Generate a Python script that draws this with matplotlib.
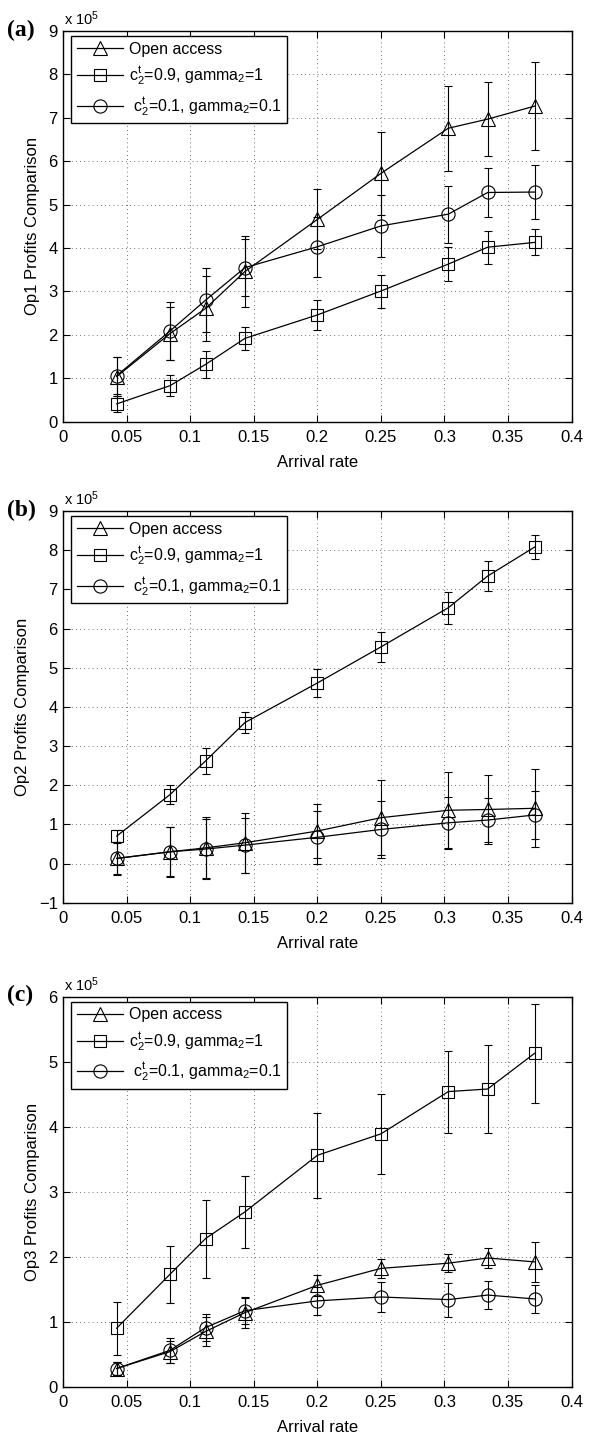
import numpy as np
import matplotlib
matplotlib.use("Agg")
import matplotlib.pyplot as plt

# ---- font setup ----
plt.rcParams['font.family'] = ['Liberation Sans', 'DejaVu Sans']
plt.rcParams['mathtext.fontset'] = 'custom'
plt.rcParams['mathtext.rm'] = 'Liberation Sans'
plt.rcParams['mathtext.it'] = 'Liberation Sans:italic'

# ---- data (profits in units of 1e5) ----
arrival = [0.042, 0.084, 0.112, 0.143, 0.2, 0.25, 0.303, 0.334, 0.371]

# Op1
open_a = [1.04, 2.03, 2.61, 3.46, 4.66, 5.72, 6.76, 6.97, 7.27]
open_a_err = [0.45, 0.62, 0.75, 0.82, 0.69, 0.96, 0.98, 0.86, 1.02]
sq_a = [0.41, 0.83, 1.32, 1.92, 2.46, 3.01, 3.63, 4.02, 4.13]
sq_a_err = [0.19, 0.24, 0.32, 0.27, 0.34, 0.38, 0.40, 0.38, 0.30]
ci_a = [1.06, 2.09, 2.80, 3.55, 4.03, 4.51, 4.78, 5.28, 5.29]
ci_a_err = [0.42, 0.66, 0.73, 0.65, 0.69, 0.71, 0.66, 0.57, 0.62]

# Op2
open_b = [0.13, 0.30, 0.40, 0.53, 0.83, 1.17, 1.36, 1.38, 1.41]
open_b_err = [0.42, 0.64, 0.78, 0.77, 0.70, 0.96, 0.97, 0.88, 1.00]
sq_b = [0.70, 1.76, 2.62, 3.60, 4.61, 5.53, 6.53, 7.34, 8.08]
sq_b_err = [0.15, 0.25, 0.33, 0.28, 0.35, 0.38, 0.41, 0.38, 0.30]
ci_b = [0.13, 0.30, 0.37, 0.47, 0.67, 0.87, 1.04, 1.11, 1.24]
ci_b_err = [0.40, 0.62, 0.76, 0.70, 0.68, 0.72, 0.66, 0.57, 0.62]

# Op3
open_c = [0.28, 0.54, 0.85, 1.14, 1.56, 1.82, 1.90, 1.98, 1.92]
open_c_err = [0.10, 0.17, 0.23, 0.24, 0.16, 0.14, 0.14, 0.15, 0.31]
sq_c = [0.90, 1.73, 2.28, 2.69, 3.56, 3.89, 4.54, 4.58, 5.13]
sq_c_err = [0.41, 0.44, 0.60, 0.55, 0.65, 0.61, 0.63, 0.68, 0.76]
ci_c = [0.28, 0.56, 0.91, 1.17, 1.32, 1.38, 1.34, 1.41, 1.35]
ci_c_err = [0.10, 0.19, 0.21, 0.20, 0.22, 0.23, 0.26, 0.21, 0.22]

labels = ['Open access',
          r'$\mathrm{c}_2^\mathrm{t}$=0.9, gamma$_2$=1',
          r' $\mathrm{c}_2^\mathrm{t}$=0.1, gamma$_2$=0.1']

panels = [
    ('(a)', 'Op1 Profits Comparison', (0, 9), [(open_a, open_a_err), (sq_a, sq_a_err), (ci_a, ci_a_err)]),
    ('(b)', 'Op2 Profits Comparison', (-1, 9), [(open_b, open_b_err), (sq_b, sq_b_err), (ci_b, ci_b_err)]),
    ('(c)', 'Op3 Profits Comparison', (0, 6), [(open_c, open_c_err), (sq_c, sq_c_err), (ci_c, ci_c_err)]),
]
markers = [('^', 10.5), ('s', 8), ('o', 9.5)]

W, H = 590, 1438
fig = plt.figure(figsize=(W / 100, H / 100), dpi=100)

# axes boxes in pixels: (top, bottom)
boxes = [(31, 421.7), (511, 902.7), (996.7, 1386.7)]
left_px, right_px = 63.3, 571.5

for (tag, ylab, ylim, series), (top, bot) in zip(panels, boxes):
    ax = fig.add_axes([left_px / W, (H - bot) / H, (right_px - left_px) / W, (bot - top) / H])
    handles = []
    for (vals, errs), (m, ms) in zip(series, markers):
        ax.errorbar(arrival, vals, yerr=errs, fmt='none', ecolor='black',
                    elinewidth=0.8, capsize=3, capthick=0.8)
        h, = ax.plot(arrival, vals, color='black', lw=0.9, marker=m, ms=ms,
                     mfc='none', mec='black', mew=0.8)
        handles.append(h)

    ax.set_xlim(0, 0.4)
    ax.set_ylim(*ylim)
    ax.set_xticks(np.arange(0, 0.41, 0.05))
    ax.set_xticklabels(['0', '0.05', '0.1', '0.15', '0.2', '0.25', '0.3', '0.35', '0.4'])
    ax.set_yticks(np.arange(ylim[0], ylim[1] + 1, 1))
    ax.tick_params(direction='in', top=True, right=True, length=5, width=0.8,
                   labelsize=12, pad=4)
    ax.tick_params(axis='x', pad=6)
    ax.grid(True, color='black', linestyle=(0, (1, 4)), linewidth=0.6, alpha=0.75)
    for s in ax.spines.values():
        s.set_linewidth(1.0)

    ax.set_xlabel('Arrival rate', fontsize=12, labelpad=7)
    ax.set_ylabel(ylab, fontsize=12, labelpad=6)

    leg = ax.legend(handles, labels, loc='upper left', bbox_to_anchor=(0.015, 0.987),
                    borderaxespad=0, fontsize=11.5, handlelength=2.9, handletextpad=0.36,
                    labelspacing=0.5, fancybox=False, framealpha=1, borderpad=0.35)
    leg.get_frame().set_edgecolor('black')
    leg.get_frame().set_linewidth(1.0)

    # exponent and panel tag
    fig.text((left_px + 1) / W, (H - top + 3) / H, r'x 10$^5$', fontsize=10.5,
             ha='left', va='bottom')
    fig.text(7 / W, (H - top + 1) / H, tag, fontsize=17, fontweight='bold',
             family='Liberation Serif', ha='left', va='center')

fig.savefig('out.png', dpi=100)
